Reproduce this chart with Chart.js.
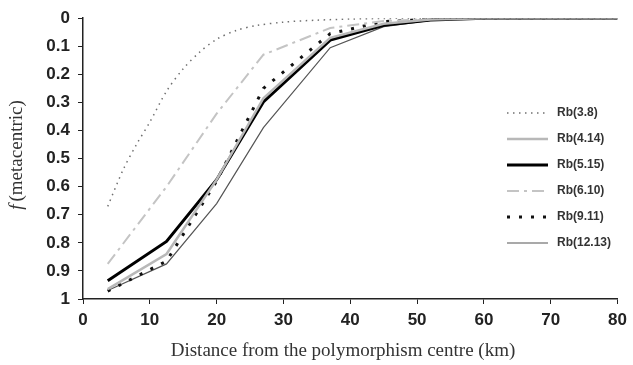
<!DOCTYPE html>
<html>
<head>
<meta charset="utf-8">
<script src="https://cdn.jsdelivr.net/npm/chart.js@4.4.1/dist/chart.umd.min.js"></script>
<style>
    html, body { margin: 0; padding: 0; background: #fff; }
    #wrap { width: 633px; height: 365px; position: relative; }
</style>
</head>
<body>
<div id="wrap"><canvas id="cline-chart"></canvas></div>
<script>
// Distance from the centre (km)
const distKm = [3.7, 12.5, 20, 27, 37, 45, 52, 60, 70, 80];
// Rb(3.8) is a smooth curve, read at more points
const distKmRb38 = [3.7, 6, 8, 10, 12.5, 15, 17.5, 20, 23, 26, 30, 35, 40, 45, 50, 60, 70, 80];

// f(metacentric) for each race
const rb38   = [0.67, 0.54, 0.45, 0.37, 0.26, 0.18, 0.12, 0.075, 0.043, 0.026, 0.014, 0.007, 0.003, 0.001, 0, 0, 0, 0];
const rb414  = [0.965, 0.84, 0.575, 0.285, 0.07, 0.02, 0.005, 0, 0, 0];
const rb515  = [0.935, 0.795, 0.575, 0.298, 0.078, 0.025, 0.006, 0, 0, 0];
const rb610  = [0.875, 0.60, 0.34, 0.13, 0.035, 0.01, 0.003, 0, 0, 0];
const rb911  = [0.972, 0.865, 0.58, 0.25, 0.055, 0.012, 0.003, 0, 0, 0];
const rb1213 = [0.97, 0.875, 0.66, 0.39, 0.105, 0.03, 0.008, 0, 0, 0];

const seriesLabels = ['Rb(3.8)', 'Rb(4.14)', 'Rb(5.15)', 'Rb(6.10)', 'Rb(9.11)', 'Rb(12.13)'];
const xTickLabels = ['0', '10', '20', '30', '40', '50', '60', '70', '80'];
const yTickLabels = ['0', '0.1', '0.2', '0.3', '0.4', '0.5', '0.6', '0.7', '0.8', '0.9', '1'];
const xTitle = 'Distance from the polymorphism centre (km)';
const yTitleParts = ['f', '(metacentric)'];

function toPoints(xs, ys) {
    return xs.map((x, i) => ({ x: x, y: ys[i] }));
}

// Legend drawn inside the plot, with line samples
const insideLegend = {
    id: 'insideLegend',
    afterDraw(chart) {
        const ctx = chart.ctx;
        ctx.save();
        chart.data.datasets.forEach((ds, i) => {
            const y = 113 + i * 26;
            ctx.beginPath();
            ctx.setLineDash(ds.borderDash || []);
            ctx.lineWidth = ds.borderWidth;
            ctx.strokeStyle = ds.borderColor;
            ctx.lineCap = 'butt';
            ctx.moveTo(507, y);
            ctx.lineTo(548, y);
            ctx.stroke();
            ctx.setLineDash([]);
            ctx.fillStyle = '#333';
            ctx.font = 'bold 12px "Liberation Sans", Arial, sans-serif';
            ctx.textBaseline = 'middle';
            ctx.fillText(ds.label, 557, y);
        });
        ctx.restore();
    }
};

// Axis titles (serif, italic f)
const axisTitles = {
    id: 'axisTitles',
    afterDraw(chart) {
        const ctx = chart.ctx;
        ctx.save();
        ctx.fillStyle = '#333';
        ctx.textBaseline = 'middle';
        ctx.font = '19px "Liberation Serif", "Times New Roman", serif';
        ctx.textAlign = 'center';
        ctx.fillText(xTitle, 343, 351);

        ctx.translate(17, 155);
        ctx.rotate(-Math.PI / 2);
        ctx.textAlign = 'left';
        const fItalic = 'italic 19px "Liberation Serif", "Times New Roman", serif';
        const fNormal = '19px "Liberation Serif", "Times New Roman", serif';
        ctx.font = fItalic;
        const w1 = ctx.measureText(yTitleParts[0]).width + 3;
        ctx.font = fNormal;
        const w2 = ctx.measureText(yTitleParts[1]).width;
        const x0 = -(w1 + w2) / 2;
        ctx.font = fItalic;
        ctx.fillText(yTitleParts[0], x0, 0);
        ctx.font = fNormal;
        ctx.fillText(yTitleParts[1], x0 + w1, 0);
        ctx.restore();
    }
};

function drawChart() {
    const canvas = document.getElementById('cline-chart');
    const ctx = canvas.getContext('2d');

    const styles = [
        { color: '#707070', width: 1.5, dash: [1.5, 4.5] },
        { color: '#b8b8b8', width: 2.5, dash: [] },
        { color: '#000000', width: 3, dash: [] },
        { color: '#c4c4c4', width: 2, dash: [12, 5, 3, 5] },
        { color: '#111111', width: 3, dash: [3, 9] },
        { color: '#555555', width: 1.2, dash: [] }
    ];
    const series = [
        toPoints(distKmRb38, rb38),
        toPoints(distKm, rb414),
        toPoints(distKm, rb515),
        toPoints(distKm, rb610),
        toPoints(distKm, rb911),
        toPoints(distKm, rb1213)
    ];

    const tickFont = { family: '"Liberation Sans", Arial, sans-serif', size: 17, weight: 'bold' };

    new Chart(ctx, {
        type: 'line',
        data: {
            datasets: series.map((data, i) => ({
                label: seriesLabels[i],
                data: data,
                borderColor: styles[i].color,
                borderWidth: styles[i].width,
                borderDash: styles[i].dash,
                pointRadius: 0,
                tension: i === 0 ? 0.3 : 0,
                fill: false
            }))
        },
        options: {
            responsive: true,
            maintainAspectRatio: false,
            animation: false,
            layout: { padding: { top: 16, right: 12, left: 0, bottom: 0 } },
            plugins: {
                legend: { display: false },
                tooltip: { enabled: false }
            },
            scales: {
                x: {
                    type: 'linear',
                    min: 0,
                    max: 80,
                    afterFit: function(scale) { scale.height = 66; },
                    ticks: {
                        stepSize: 10,
                        color: '#222',
                        font: tickFont,
                        padding: 6,
                        maxRotation: 0,
                        callback: function(value) { return xTickLabels[Math.round(value / 10)]; }
                    },
                    grid: { display: true, drawOnChartArea: false, drawTicks: true, tickLength: 5, color: '#222' },
                    border: { display: true, color: '#222', width: 1.5 }
                },
                y: {
                    type: 'linear',
                    min: 0,
                    max: 1,
                    reverse: true,
                    afterFit: function(scale) { scale.width = 83; },
                    ticks: {
                        stepSize: 0.1,
                        color: '#222',
                        font: tickFont,
                        padding: 8,
                        callback: function(value) { return yTickLabels[Math.round(value * 10)]; }
                    },
                    grid: { display: true, drawOnChartArea: false, drawTicks: true, tickLength: 5, color: '#222' },
                    border: { display: true, color: '#222', width: 1.5 }
                }
            }
        },
        plugins: [insideLegend, axisTitles]
    });
}

if (typeof Chart !== 'undefined') {
    drawChart();
} else {
    console.error('Chart.js is not loaded.');
}
</script>
</body>
</html>
